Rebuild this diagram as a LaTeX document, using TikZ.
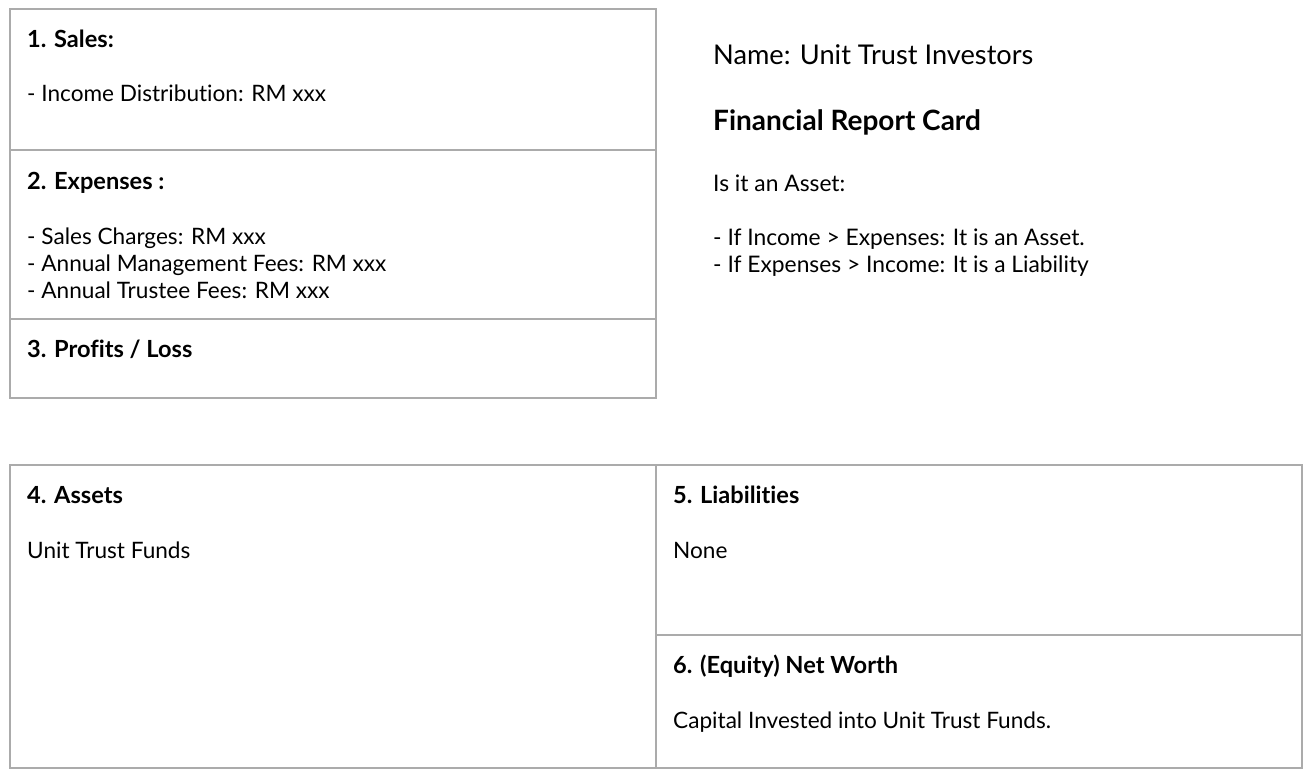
\documentclass[tikz,border=0pt]{standalone}
\usepackage{fontspec}
\setmainfont{Lato}[Ligatures=NoCommon]
\begin{document}
\begin{tikzpicture}[x=1pt,y=-1pt,
  frame/.style={draw=black!33,line width=1.6pt},
  txt/.style={anchor=base west,inner sep=0pt,font=\fontsize{22.6}{27}\selectfont},
  head/.style={txt,font=\fontsize{23.6}{27}\selectfont\bfseries},
  big/.style={anchor=base west,inner sep=0pt,font=\fontsize{27.2}{30}\selectfont},
  bighead/.style={big,font=\fontsize{28}{30}\selectfont\bfseries},
  small/.style={anchor=base west,inner sep=0pt,font=\fontsize{22.8}{27}\selectfont}]
\useasboundingbox (0,0) rectangle (1310,776);
% top-left table
\draw[frame] (10,9) rectangle (656,398);
\draw[frame] (10,150) -- (656,150);
\draw[frame] (10,319) -- (656,319);
% bottom table
\draw[frame] (10,465) rectangle (1302,768);
\draw[frame] (656,465) -- (656,768);
\draw[frame] (656,635) -- (1302,635);
% texts
\node[head] (h1) at (27,48) {1. Sales:};
\node[txt] (t1) at (27,102) {- Income Distribution: RM xxx};
\node[head] (h2) at (27,189) {2. Expenses :};
\node[txt] (t2a) at (27,244) {- Sales Charges: RM xxx};
\node[txt] (t2b) at (27,271) {- Annual Management Fees: RM xxx};
\node[txt] (t2c) at (27,298) {- Annual Trustee Fees: RM xxx};
\node[head] (h3) at (27,357) {3. Profits / Loss};
\node[big] (name) at (713,65) {Name: Unit Trust Investors};
\node[bighead] (frc) at (713,130) {Financial Report Card};
\node[small] (isit) at (713,191) {Is it an Asset:};
\node[small] (r1) at (713,245) {- If Income > Expenses: It is an Asset.};
\node[small] (r2) at (713,272) {- If Expenses > Income: It is a Liability};
\node[head] (h4) at (27,503) {4. Assets};
\node[txt] (t4) at (27,558) {Unit Trust Funds};
\node[head] (h5) at (673,503) {5. Liabilities};
\node[txt] (t5) at (673,558) {None};
\node[head] (h6) at (673,673) {6. (Equity) Net Worth};
\node[txt] (t6) at (673,728) {Capital Invested into Unit Trust Funds.};
\end{tikzpicture}
\end{document}
